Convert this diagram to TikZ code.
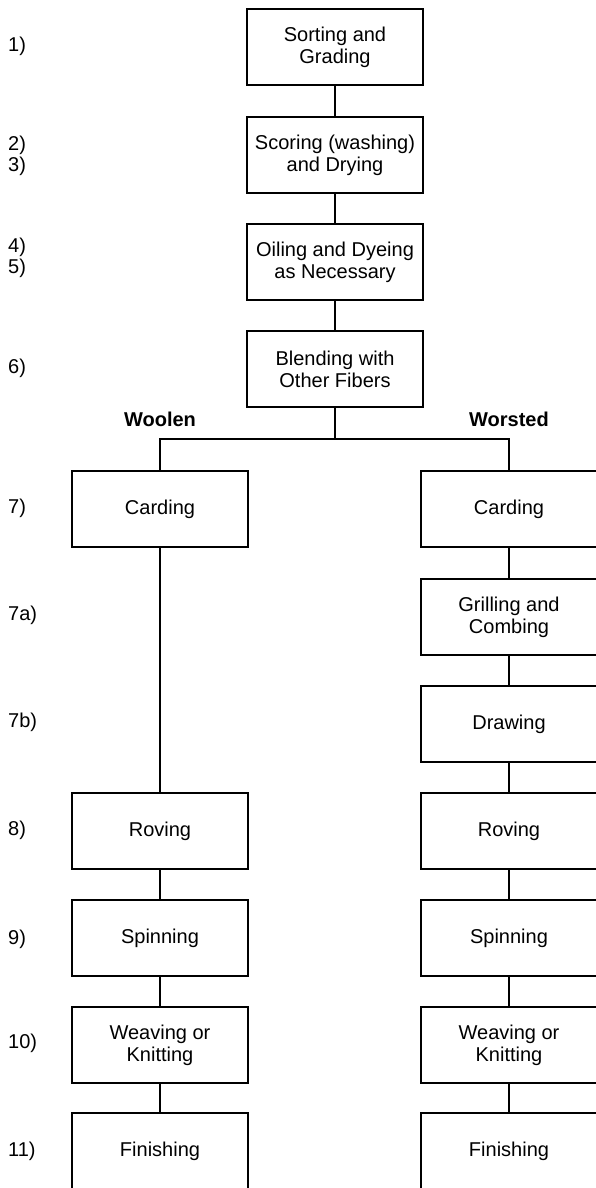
\documentclass[tikz,border=0pt]{standalone}
\usepackage{fontspec}
\setmainfont{Liberation Sans}
\begin{document}
\begin{tikzpicture}[x=1pt,y=-1pt,
  stage/.style={draw, line width=1.8pt, minimum width=176pt, minimum height=76pt,
    inner sep=0pt, align=center, font=\fontsize{20}{22}\selectfont},
  num/.style={anchor=west, inner sep=0pt, align=left, font=\fontsize{20}{21}\selectfont},
  head/.style={inner sep=0pt, font=\fontsize{20}{22}\selectfont\bfseries},
  conn/.style={line width=2.3pt},
  branch/.style={line width=2.6pt}]
\useasboundingbox (0,0) rectangle (595,1188);

% common trunk
\node[stage] (sort)  at (335,47)  {Sorting and\\Grading};
\node[stage] (scour) at (335,155) {Scoring (washing)\\and Drying};
\node[stage] (oil)   at (335,262) {Oiling and Dyeing\\as Necessary};
\node[stage] (blend) at (335,369) {Blending with\\Other Fibers};

% woolen line
\node[stage] (cardL)   at (160,509)  {Carding};
\node[stage] (rovL)    at (160,831)  {Roving};
\node[stage] (spinL)   at (160,938)  {Spinning};
\node[stage] (weaveL)  at (160,1045) {Weaving or\\Knitting};
\node[stage] (finL)    at (160,1151) {Finishing};

% worsted line
\node[stage] (cardR)   at (509,509)  {Carding};
\node[stage] (grillR)  at (509,617)  {Grilling and\\Combing};
\node[stage] (drawR)   at (509,724)  {Drawing};
\node[stage] (rovR)    at (509,831)  {Roving};
\node[stage] (spinR)   at (509,938)  {Spinning};
\node[stage] (weaveR)  at (509,1045) {Weaving or\\Knitting};
\node[stage] (finR)    at (509,1151) {Finishing};

% branch headings
\node[head] (woolen)  at (160,419) {Woolen};
\node[head] (worsted) at (509,419) {Worsted};

% step numbers
\node[num] (n1)   at (8,46)    {1)};
\node[num] (n23)  at (8,155.5) {2)\\3)};
\node[num] (n45)  at (8,258)   {4)\\5)};
\node[num] (n6)   at (8,368)   {6)};
\node[num] (n7)   at (8,508)   {7)};
\node[num] (n7a)  at (8,615)   {7a)};
\node[num] (n7b)  at (8,722)   {7b)};
\node[num] (n8)   at (8,830)   {8)};
\node[num] (n9)   at (8,939)   {9)};
\node[num] (n10)  at (8,1043)  {10)};
\node[num] (n11)  at (8,1151)  {11)};

% connectors
\draw[conn] (sort) -- (scour);
\draw[conn] (scour) -- (oil);
\draw[conn] (oil) -- (blend);

\coordinate (split) at (335,439);
\draw[branch] (blend) -- (split);
\draw[branch] (split) -| (cardL);
\draw[branch] (split) -| (cardR);

\draw[conn] (cardL) -- (rovL);
\draw[conn] (rovL) -- (spinL);
\draw[conn] (spinL) -- (weaveL);
\draw[conn] (weaveL) -- (finL);

\draw[conn] (cardR) -- (grillR);
\draw[conn] (grillR) -- (drawR);
\draw[conn] (drawR) -- (rovR);
\draw[conn] (rovR) -- (spinR);
\draw[conn] (spinR) -- (weaveR);
\draw[conn] (weaveR) -- (finR);
\end{tikzpicture}
\end{document}
